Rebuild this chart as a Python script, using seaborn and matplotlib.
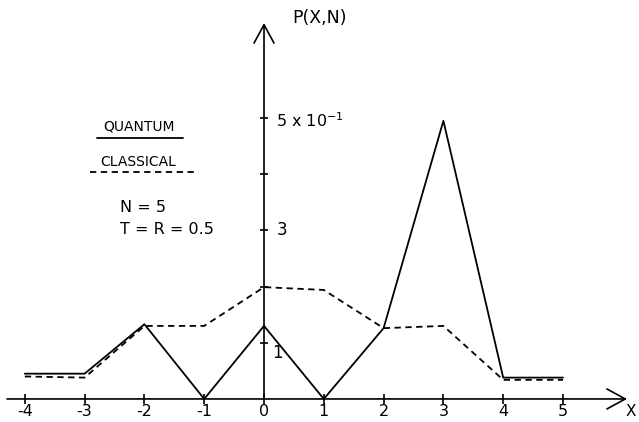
import matplotlib
matplotlib.use("Agg")
import matplotlib.pyplot as plt
import pandas as pd
import seaborn as sns

# values (P in absolute units, 0.5 = "5 x 10^-1")
X_POSITIONS = [-4, -3, -2, -1, 0, 1, 2, 3, 4, 5]
QUANTUM = [0.045, 0.045, 0.133, 0.0, 0.130, 0.0, 0.126, 0.495, 0.038, 0.038]
CLASSICAL = [0.040, 0.038, 0.130, 0.130, 0.199, 0.194, 0.126, 0.130, 0.034, 0.034]
X_TICK_LABELS = ["-4", "-3", "-2", "-1", "0", "1", "2", "3", "4", "5"]
Y_TICKS = [0.1, 0.2, 0.3, 0.4, 0.5]
Y_TICK_LABELS = {0.1: "1", 0.3: "3", 0.5: r"5 x 10$^{-1}$"}

W, H = 639, 422
XLIM = (-4.415, 6.271)
YLIM = (-0.041, 0.71)


def dx(px):
    return XLIM[0] + px / W * (XLIM[1] - XLIM[0])


def dy(py):
    return YLIM[1] - py / H * (YLIM[1] - YLIM[0])


sns.set_theme(style="white")
plt.rcParams["font.family"] = ["DejaVu Sans"]
plt.rcParams["text.color"] = "black"

df = pd.concat([
    pd.DataFrame({"x": X_POSITIONS, "p": QUANTUM, "model": "QUANTUM"}),
    pd.DataFrame({"x": X_POSITIONS, "p": CLASSICAL, "model": "CLASSICAL"}),
])

fig = plt.figure(figsize=(W / 100, H / 100), dpi=100)
ax = fig.add_axes([0, 0, 1, 1])
ax.set_xlim(*XLIM); ax.set_ylim(*YLIM); ax.axis("off")

sns.lineplot(data=df, x="x", y="p", style="model", dashes={"QUANTUM": "", "CLASSICAL": (3.5, 2.5)},
             color="black", linewidth=1.3, legend=False, ax=ax, sort=False)

# hand-drawn style axes with open arrow heads
arrow = dict(arrowstyle="->,head_length=1.1,head_width=0.6", lw=1.2, color="black", shrinkA=0, shrinkB=0)
ax.annotate("", xy=(dx(627), 0), xytext=(dx(7), 0), arrowprops=arrow)
ax.annotate("", xy=(0, dy(23)), xytext=(0, 0), arrowprops=arrow)

ax.vlines(X_POSITIONS, -0.009, 0.009, color="black", lw=1.2)
for x, label in zip(X_POSITIONS, X_TICK_LABELS):
    ax.text(x, dy(411), label, ha="center", va="center", fontsize=11.5)
ax.text(dx(626), dy(411), "X", ha="left", va="center", fontsize=11)

ax.hlines(Y_TICKS, -0.07, 0.07, color="black", lw=1.2)
ax.text(dx(272), 0.1 - 0.018, Y_TICK_LABELS[0.1], ha="left", va="center", fontsize=12)
ax.text(dx(277), 0.3, Y_TICK_LABELS[0.3], ha="left", va="center", fontsize=12)
ax.text(dx(276), 0.5 - 0.004, Y_TICK_LABELS[0.5], ha="left", va="center", fontsize=11.5)
ax.text(dx(292), dy(18), "P(X,N)", ha="left", va="center", fontsize=12.5)

# legend drawn by hand as in the original
ax.text(dx(139), dy(127), "QUANTUM", ha="center", va="center", fontsize=10)
ax.plot([dx(97), dx(183)], [dy(138), dy(138)], color="black", lw=1.3)
ax.text(dx(138), dy(162), "CLASSICAL", ha="center", va="center", fontsize=10)
ax.plot([dx(90), dx(195)], [dy(172), dy(172)], color="black", lw=1.3, dashes=(3.5, 2.5))
ax.text(dx(120), dy(207), "N = 5", ha="left", va="center", fontsize=11.5)
ax.text(dx(120), dy(229), "T = R = 0.5", ha="left", va="center", fontsize=11.5)

fig.savefig("out.png", dpi=100)
